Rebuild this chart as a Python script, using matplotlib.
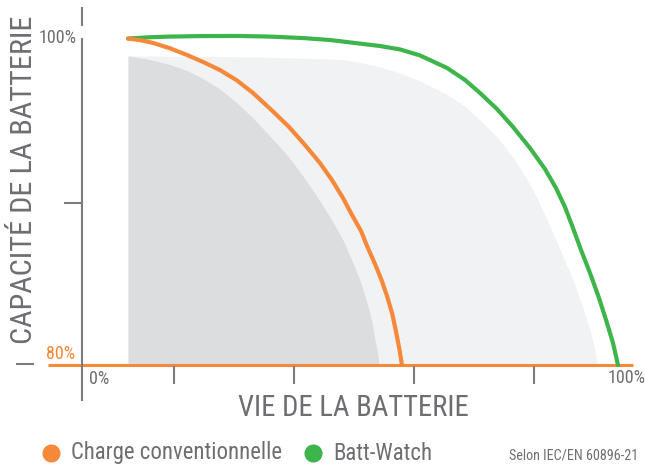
import matplotlib
matplotlib.use("Agg")
import matplotlib.pyplot as plt
from matplotlib.lines import Line2D

# ---- data (battery life %, capacity %) ----
orange_x = [8.58, 10.82, 13.25, 16.42, 19.59, 22.57, 25.75, 28.92, 31.90, 35.26, 38.62,
            41.60, 44.40, 46.64, 48.69, 50.37, 52.05, 53.26, 54.66, 55.88, 56.90, 57.84,
            58.53, 59.14, 59.70]
orange_y = [100.09, 99.99, 99.82, 99.49, 99.08, 98.65, 98.15, 97.51, 96.74, 95.72, 94.65,
            93.54, 92.43, 91.38, 90.28, 89.23, 88.25, 87.26, 86.22, 85.23, 84.25, 83.20,
            82.15, 81.11, 80.00]

green_x = [8.58, 12.69, 16.42, 22.01, 28.92, 35.07, 41.23, 46.27, 50.56, 55.60, 59.33,
           63.06, 68.10, 71.46, 74.25, 77.43, 80.41, 83.58, 86.38, 88.43, 90.11, 91.60,
           93.10, 94.78, 96.46, 97.95, 99.07, 100.0]
green_y = [100.09, 100.17, 100.21, 100.24, 100.25, 100.21, 100.12, 100.0, 99.83, 99.63,
           99.42, 99.05, 98.28, 97.54, 96.74, 95.75, 94.65, 93.35, 92.06, 90.89, 89.72,
           88.43, 87.08, 85.66, 84.12, 82.58, 81.35, 80.00]

dark_x = [8.58, 12.69, 16.42, 19.59, 22.57, 25.75, 28.92, 31.90, 35.07, 38.25, 41.23,
          44.03, 46.83, 48.88, 50.56, 52.05, 53.17, 54.10, 54.66, 55.22, 55.41]
dark_y = [99.02, 98.80, 98.49, 98.12, 97.63, 96.98, 96.12, 95.20, 94.09, 92.92, 91.63,
          90.28, 88.80, 87.57, 86.28, 85.05, 83.82, 82.65, 81.54, 80.62, 80.00]

light_x = [8.58, 22.01, 33.21, 44.40, 48.13, 51.87, 55.60, 59.33, 63.06, 68.10, 71.46,
           74.25, 77.43, 80.41, 82.65, 84.89, 87.31, 89.55, 91.60, 93.28, 94.78, 95.71, 96.08]
light_y = [99.02, 99.00, 98.95, 98.86, 98.80, 98.62, 98.34, 97.97, 97.48, 96.65, 95.91,
           95.08, 94.03, 92.80, 91.63, 90.28, 88.55, 86.83, 85.23, 83.69, 82.15, 80.92, 80.00]

x_tick_pos = [17.16, 39.55, 61.94, 84.33]
legend_labels = ["Charge conventionnelle", "Batt-Watch"]
y_label = "CAPACITÉ DE LA BATTERIE"
x_label = "VIE DE LA BATTERIE"
note = "Selon IEC/EN 60896-21"

ORANGE = "#f6883a"
GREEN = "#3db54b"
GRAY_TXT = "#6d6e71"
AXIS = "#7b7c7f"
FONT = ["Liberation Sans Narrow", "Roboto Condensed", "DejaVu Sans"]

W, H = 645, 467
fig = plt.figure(figsize=(W / 100, H / 100), dpi=100)
fig.patch.set_facecolor("white")

def fx(px):
    return px / W

def fy(py):
    return 1 - py / H

ax = fig.add_axes([fx(82), fy(365), 536 / W, 325 / H])
ax.set_xlim(0, 100)
ax.set_ylim(80, 100)
ax.axis("off")

ax.fill_between(light_x, light_y, 80, color="#f1f2f4", lw=0, zorder=1)
ax.fill_between(dark_x, dark_y, 80, color="#dcdddf", lw=0, zorder=2)

# baseline (80%)
ax.plot([-6.3, 102.8], [80, 80], color=ORANGE, lw=2.2, clip_on=False, zorder=3,
        solid_capstyle="butt")

ax.plot(green_x, green_y, color=GREEN, lw=3.0, clip_on=False, zorder=5,
        solid_capstyle="round", solid_joinstyle="round")
ax.plot(orange_x, orange_y, color=ORANGE, lw=3.0, clip_on=False, zorder=6,
        solid_capstyle="round", solid_joinstyle="round")

# y axis line (with a gap near the top)
for (a, b) in [(8, 25), (39, 400)]:
    fig.add_artist(Line2D([fx(82), fx(82)], [fy(a), fy(b)], color=AXIS, lw=1.5))
# y ticks
fig.add_artist(Line2D([fx(65), fx(82)], [fy(203), fy(203)], color=AXIS, lw=1.5))
fig.add_artist(Line2D([fx(17), fx(33)], [fy(364), fy(364)], color=AXIS, lw=1.5))
# x ticks
for t in x_tick_pos:
    ax.plot([t, t], [79.87, 78.9], color=AXIS, lw=1.5, clip_on=False, zorder=3)

# tick labels
fig.text(fx(57.5), fy(38), "100%", color=GRAY_TXT, fontsize=13, family=FONT,
         ha="center", va="center")
fig.text(fx(61), fy(354), "80%", color=ORANGE, fontsize=13, family=FONT,
         ha="center", va="center")
fig.text(fx(99.5), fy(379), "0%", color=GRAY_TXT, fontsize=13, family=FONT,
         ha="center", va="center")
fig.text(fx(627), fy(378), "100%", color=GRAY_TXT, fontsize=13, family=FONT,
         ha="center", va="center")

# axis labels
fig.text(fx(24), fy(180), y_label, color=GRAY_TXT, fontsize=21.8, family=FONT,
         rotation=90, ha="center", va="center")
fig.text(fx(353), fy(408), x_label, color=GRAY_TXT, fontsize=20.6, family=FONT,
         ha="center", va="center")

# legend
fig.add_artist(Line2D([fx(51)], [fy(453)], marker="o", ms=12, color=ORANGE, lw=0))
fig.text(fx(71), fy(453), legend_labels[0], color=GRAY_TXT, fontsize=16.4, family=FONT,
         ha="left", va="center")
fig.add_artist(Line2D([fx(313)], [fy(453)], marker="o", ms=12, color=GREEN, lw=0))
fig.text(fx(333), fy(453), legend_labels[1], color=GRAY_TXT, fontsize=16.4, family=FONT,
         ha="left", va="center")
fig.text(fx(638), fy(455), note, color=GRAY_TXT, fontsize=10.2, family=FONT,
         ha="right", va="center")

fig.savefig("out.png", dpi=100, facecolor="white")
